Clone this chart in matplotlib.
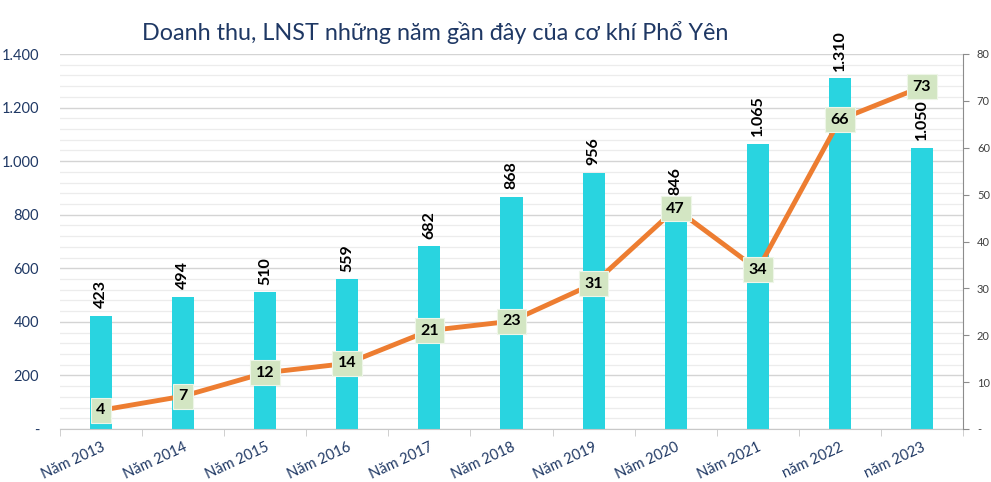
import matplotlib
matplotlib.use("Agg")
import matplotlib.pyplot as plt
from matplotlib.ticker import MultipleLocator, FuncFormatter

categories = ["Năm 2013", "Năm 2014", "Năm 2015", "Năm 2016", "Năm 2017", "Năm 2018",
              "Năm 2019", "Năm 2020", "Năm 2021", "năm 2022", "năm 2023"]
revenue = [423, 494, 510, 559, 682, 868, 956, 846, 1065, 1310, 1050]
profit = [4, 7, 12, 14, 21, 23, 31, 47, 34, 66, 73]

plt.rcParams['font.family'] = ['Lato', 'DejaVu Sans']

fig = plt.figure(figsize=(9.91, 4.82), dpi=100)
ax = fig.add_axes([60/991, 1-429/482, 903/991, 375/482])
ax2 = ax.twinx()

x = list(range(len(categories)))
ax.bar(x, revenue, width=0.27, color="#29D4E0", zorder=2)
ax.set_xlim(-0.5, len(categories) - 0.5)
ax.set_ylim(0, 1400)
ax.yaxis.set_major_locator(MultipleLocator(200))
ax.yaxis.set_minor_locator(MultipleLocator(40))

def fmt_thousands(v, pos):
    if v == 0:
        return "-"
    return f"{int(v):,}".replace(",", ".")

ax.yaxis.set_major_formatter(FuncFormatter(fmt_thousands))
ax.grid(axis='y', which='major', color='#d4d4d4', linewidth=1.0, zorder=0)
ax.grid(axis='y', which='minor', color='#ececec', linewidth=0.9, zorder=0)
ax.set_axisbelow(True)
ax.tick_params(axis='y', which='both', length=0, labelsize=10.5, labelcolor='#1f3864', pad=15)
ax.set_xticks(x)
ax.set_xticklabels(categories, rotation=25, ha='right', rotation_mode='anchor',
                   color='#1f3864', fontsize=10.5)
ax.set_xticks([i + 0.5 for i in range(-1, len(categories))], minor=True)
ax.tick_params(axis='x', which='major', length=0, pad=8)
ax.tick_params(axis='x', which='minor', length=5, color='#c8c8c8')
for s in ['top', 'left', 'right']:
    ax.spines[s].set_visible(False)
ax.spines['bottom'].set_color('#c8c8c8')

for xi, v in zip(x, revenue):
    ax.text(xi, v + 28, fmt_thousands(v, None), rotation=90, ha='center', va='bottom',
            fontsize=11.5, fontweight='bold', color='black', zorder=5)

ax2.plot(x, profit, color='#ED7D31', linewidth=3.5, zorder=3, solid_capstyle='round')
ax2.set_ylim(0, 80)
ax2.yaxis.set_major_locator(MultipleLocator(10))
ax2.yaxis.set_major_formatter(FuncFormatter(lambda v, p: "-" if v == 0 else f"{int(v)}"))
ax2.tick_params(axis='y', length=4, direction='out', color='#8c8c8c', labelsize=8,
                labelcolor='#404040', pad=6)
for s in ['top', 'left', 'bottom']:
    ax2.spines[s].set_visible(False)
ax2.spines['right'].set_color('#8c8c8c')

for xi, v in zip(x, profit):
    ax2.text(xi, v, str(v), ha='center', va='center', fontsize=11.5, fontweight='bold',
             color='black', zorder=6,
             bbox=dict(boxstyle='square,pad=0.35', facecolor='#d3e6c3', edgecolor='#eef6e8',
                       linewidth=0.8))

fig.text(435/991, 1-32/482, "Doanh thu, LNST những năm gần đây của cơ khí Phổ Yên",
         ha='center', va='center', fontsize=16.8, color='#1f3864')

fig.savefig("out.png", dpi=100)
